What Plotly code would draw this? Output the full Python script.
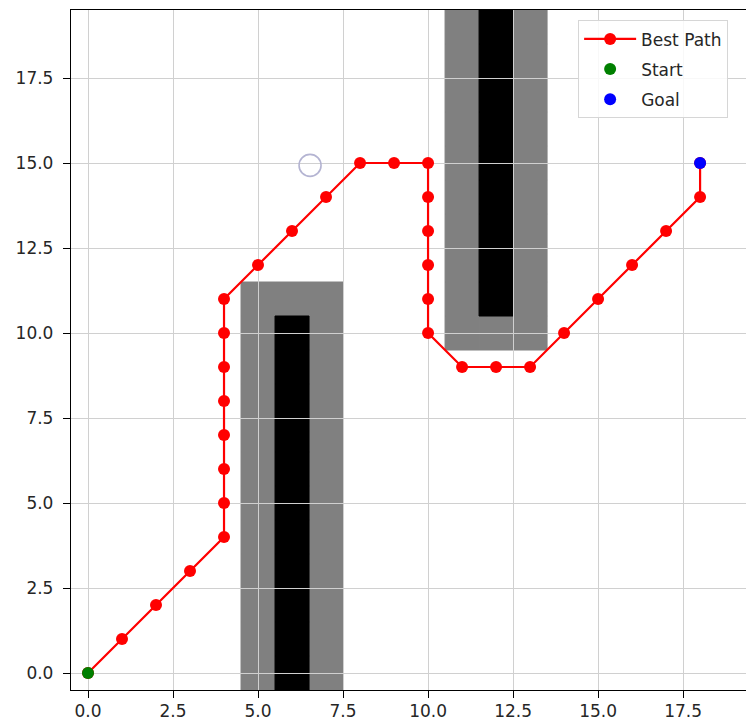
import plotly.graph_objects as go

# Occupancy grid, top row (y=19) first. '.' free, 'g' inflated margin, '#' obstacle
grid_rows = [
    "...........g#g......",  # 19
    "...........g#g......",  # 18
    "...........g#g......",  # 17
    "...........g#g......",  # 16
    "...........g#g......",  # 15
    "...........g#g......",  # 14
    "...........g#g......",  # 13
    "...........g#g......",  # 12
    ".....ggg...g#g......",  # 11
    ".....g#g...ggg......",  # 10
    ".....g#g............",  # 9
    ".....g#g............",  # 8
    ".....g#g............",  # 7
    ".....g#g............",  # 6
    ".....g#g............",  # 5
    ".....g#g............",  # 4
    ".....g#g............",  # 3
    ".....g#g............",  # 2
    ".....g#g............",  # 1
    ".....g#g............",  # 0
]
cell_colors = {"g": "#808080", "#": "#000000"}

path_x = [0, 1, 2, 3, 4, 4, 4, 4, 4, 4, 4, 4, 5, 6, 7, 8, 9, 10, 10, 10, 10, 10, 10,
          11, 12, 13, 14, 15, 16, 17, 18, 18]
path_y = [0, 1, 2, 3, 4, 5, 6, 7, 8, 9, 10, 11, 12, 13, 14, 15, 15, 15, 14, 13, 12, 11, 10,
          9, 9, 9, 10, 11, 12, 13, 14, 15]
start = (0, 0)
goal = (18, 15)
marker_circle = (6.53, 14.93)

tick_vals = [0, 2.5, 5, 7.5, 10, 12.5, 15, 17.5]
tick_text = ["0.0", "2.5", "5.0", "7.5", "10.0", "12.5", "15.0", "17.5"]

FONT = "DejaVu Sans"
fig = go.Figure()

n = len(grid_rows)
shapes = []
for kind in ["g", "#"]:
    for i, row in enumerate(grid_rows):
        y = n - 1 - i
        for x, ch in enumerate(row):
            if ch == kind:
                shapes.append(dict(type="rect", xref="x", yref="y",
                                   x0=x - 0.5, x1=x + 0.5, y0=y - 0.5, y1=y + 0.5,
                                   fillcolor=cell_colors[kind],
                                   line=dict(color=cell_colors[kind], width=1),
                                   layer="below"))

fig.add_trace(go.Scatter(x=path_x, y=path_y, mode="lines+markers", name="Best Path",
                         legendgroup="a",
                         line=dict(color="#ff0000", width=2.2),
                         marker=dict(color="#ff0000", size=12)))
fig.add_trace(go.Scatter(x=[start[0]], y=[start[1]], mode="markers", name="Start",
                         legendgroup="b",
                         marker=dict(color="#008000", size=12)))
fig.add_trace(go.Scatter(x=[goal[0]], y=[goal[1]], mode="markers", name="Goal",
                         legendgroup="c",
                         marker=dict(color="#0000ff", size=12)))
fig.add_trace(go.Scatter(x=[marker_circle[0]], y=[marker_circle[1]], mode="markers",
                         showlegend=False, hoverinfo="skip",
                         marker=dict(symbol="circle-open", color="#b4b4d2", size=22,
                                     line=dict(width=1.6))))

axis_common = dict(showline=True, linecolor="#000000", linewidth=1.3, mirror=True,
                   ticks="outside", ticklen=7, tickcolor="#000000", tickwidth=1.2,
                   showgrid=True, gridcolor="#d0d0d0", gridwidth=1.4, zeroline=False,
                   tickvals=tick_vals, ticktext=tick_text, automargin=False,
                   tickfont=dict(family=FONT, size=17, color="#262626"))

fig.update_layout(
    width=746, height=725,
    margin=dict(l=71, r=0, t=10, b=35),
    paper_bgcolor="white", plot_bgcolor="white",
    shapes=shapes,
    xaxis=dict(range=[-0.5, 19.35], ticklabelstandoff=-2, **axis_common),
    yaxis=dict(range=[-0.5, 19.5], ticklabelstandoff=6, **axis_common),
    legend=dict(x=0.751, xanchor="left", y=0.985, yanchor="top",
                bgcolor="rgba(255,255,255,0.85)", bordercolor="#d6d6d6", borderwidth=1.2,
                font=dict(family=FONT, size=17, color="#262626"),
                itemwidth=52, tracegroupgap=5),
)

fig.write_html("out.html",
               config={"displayModeBar": False},
               post_script="document.body.style.margin='0';document.body.style.overflow='hidden';")
